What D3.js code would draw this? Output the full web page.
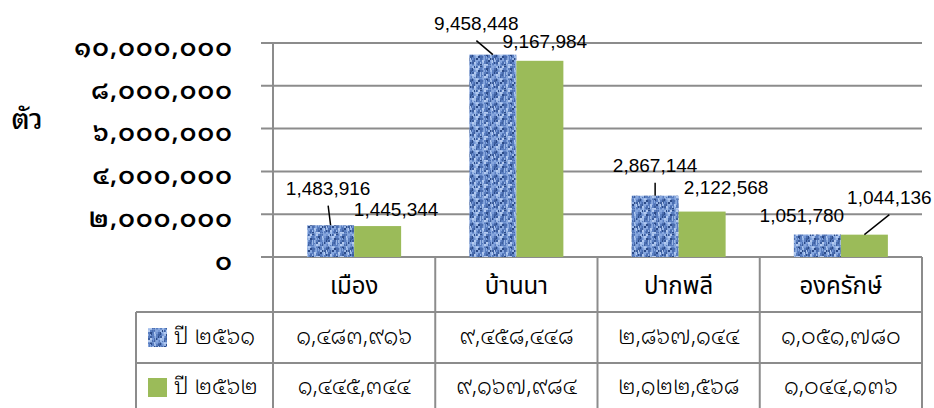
<!DOCTYPE html>
<html>
<head>
<meta charset="utf-8">
<script src="https://cdn.jsdelivr.net/npm/d3@7"></script>
<style>
  html, body { margin: 0; padding: 0; background: #fff; }
  svg { display: block; }
</style>
</head>
<body>
<svg id="chart" width="934" height="408"></svg>
<script>
// ---------- data ----------
const categories = ["เมือง", "บ้านนา", "ปากพลี", "องครักษ์"];
const seriesNames = ["ปี ๒๕๖๑", "ปี ๒๕๖๒"];
const values2561 = [1483916, 9458448, 2867144, 1051780];
const values2562 = [1445344, 9167984, 2122568, 1044136];
const yTicks = [0, 2000000, 4000000, 6000000, 8000000, 10000000];
const yTickLabels = ["๐", "๒,๐๐๐,๐๐๐", "๔,๐๐๐,๐๐๐", "๖,๐๐๐,๐๐๐", "๘,๐๐๐,๐๐๐", "๑๐,๐๐๐,๐๐๐"];
const tableRow2561 = ["๑,๔๘๓,๙๑๖", "๙,๔๕๘,๔๔๘", "๒,๘๖๗,๑๔๔", "๑,๐๕๑,๗๘๐"];
const tableRow2562 = ["๑,๔๔๕,๓๔๔", "๙,๑๖๗,๙๘๔", "๒,๑๒๒,๕๖๘", "๑,๐๔๔,๑๓๖"];
const yTitle = "ตัว";

// label placement (layout, not data): offset of label centre from bar top centre, and leader flag
const labelLayout2561 = [[-2.5, -35.7, true], [-16.5, -30, true], [0, -29, true], [-15.5, -18, false]];
const labelLayout2562 = [[18.5, -15.5, false], [5, -18.3, false], [24, -23, false], [25, -36, true]];

// ---------- layout ----------
const svg = d3.select("#chart");
const plotLeft = 273, plotRight = 922, plotTop = 43, plotBottom = 257;
const tableLeft = 136;
const rowBottoms = [312, 363, 414];
const gridColor = "#8c8c8c";
const numFont = "'Liberation Sans', Arial, sans-serif";
const thaiFont = "'Noto Sans Thai', sans-serif";
const loopFont = "'Noto Sans Thai Looped', 'Noto Sans Thai', sans-serif";

const x = d3.scaleBand().domain(categories).range([plotLeft, plotRight]).padding(0);
const barW = 47;
const x1 = d3.scaleBand().domain(seriesNames)
  .range([x.bandwidth() / 2 - barW, x.bandwidth() / 2 + barW]).padding(0);
const y = d3.scaleLinear().domain([0, 10000000]).range([plotBottom, plotTop]);

// ---------- texture pattern (denim-like woven fill) ----------
const defs = svg.append("defs");
const P = 24;
const pat = defs.append("pattern").attr("id", "denim")
  .attr("patternUnits", "userSpaceOnUse").attr("width", P).attr("height", P);
pat.append("rect").attr("width", P).attr("height", P).attr("fill", "#5a7ec0");
const shades = ["#9ab7e6", "#3d5f9f", "#7496d4", "#2b4a88", "#b4caf0", "#4a6db0", "#86a6de"];
for (let i = 0; i < P / 2; i++) {
  for (let j = 0; j < P / 2; j++) {
    const h = (i * 5 + j * 3 + (i * i + j * 7) % 4) % 11;
    if (h < 8) {
      const w = (h % 3 === 0) ? 1 : 2, hh = (h % 2 === 0) ? 3 : 2;
      pat.append("rect").attr("x", i * 2).attr("y", j * 2).attr("width", w).attr("height", hh)
        .attr("fill", shades[(h + i + j) % shades.length]);
    }
  }
}
[3, 11, 19].forEach(v => pat.append("rect").attr("x", v).attr("y", 0).attr("width", 1).attr("height", P).attr("fill", "#a8c2ec").attr("opacity", 0.55));
[6, 17].forEach(v => pat.append("rect").attr("x", 0).attr("y", v).attr("width", P).attr("height", 1).attr("fill", "#8fb0e4").attr("opacity", 0.5));

// ---------- gridlines ----------
svg.append("g").selectAll("line").data(yTicks).join("line")
  .attr("x1", plotLeft - 12).attr("x2", plotRight)
  .attr("y1", d => y(d)).attr("y2", d => y(d))
  .attr("stroke", gridColor).attr("stroke-width", 2);

// y axis line (continues through the table)
svg.append("line").attr("x1", plotLeft).attr("x2", plotLeft)
  .attr("y1", plotTop).attr("y2", 408).attr("stroke", gridColor).attr("stroke-width", 2);

// y tick labels
svg.append("g").selectAll("text").data(yTicks).join("text")
  .attr("x", 233).attr("y", d => y(d) + 6)
  .attr("text-anchor", "end").attr("dominant-baseline", "middle")
  .attr("font-family", loopFont).attr("font-weight", 600).attr("font-size", 25)
  .attr("letter-spacing", 1.2)
  .attr("fill", "#000")
  .text((d, i) => yTickLabels[i]);

// y title
svg.append("text").attr("x", 27).attr("y", 121)
  .attr("text-anchor", "middle").attr("dominant-baseline", "middle")
  .attr("font-family", loopFont).attr("font-weight", 500).attr("font-size", 28).attr("fill", "#000")
  .text(yTitle);

// ---------- bars ----------
const seriesData = [
  { name: seriesNames[0], values: values2561, fill: "url(#denim)", layout: labelLayout2561 },
  { name: seriesNames[1], values: values2562, fill: "#9bbb59", layout: labelLayout2562 }
];
const gBars = svg.append("g");
seriesData.forEach(s => {
  gBars.selectAll(null).data(categories).join("rect")
    .attr("x", c => x(c) + x1(s.name))
    .attr("y", (c, i) => y(s.values[i]))
    .attr("width", x1.bandwidth())
    .attr("height", (c, i) => y(0) - y(s.values[i]))
    .attr("fill", s.fill);
});

// ---------- data labels ----------
const fmt = d3.format(",");
const gLab = svg.append("g");
seriesData.forEach(s => {
  categories.forEach((c, i) => {
    const cx = x(c) + x1(s.name) + x1.bandwidth() / 2;
    const top = y(s.values[i]);
    const [dx, dy, leader] = s.layout[i];
    const lx = cx + dx, ly = top + dy;
    gLab.append("text").attr("x", lx).attr("y", ly)
      .attr("text-anchor", "middle").attr("dominant-baseline", "middle")
      .attr("font-family", numFont).attr("font-size", 19).attr("fill", "#000")
      .text(fmt(s.values[i]));
    if (leader) {
      gLab.append("line").attr("x1", lx).attr("y1", ly + 16).attr("x2", cx).attr("y2", top)
        .attr("stroke", "#000").attr("stroke-width", 1.5);
    }
  });
});

// ---------- data table ----------
const gT = svg.append("g");
rowBottoms.slice(0, 2).forEach(yy => {
  gT.append("line").attr("x1", tableLeft).attr("x2", plotRight).attr("y1", yy).attr("y2", yy)
    .attr("stroke", gridColor).attr("stroke-width", 2);
});
categories.forEach(c => {
  gT.append("line").attr("x1", x(c) + x.bandwidth()).attr("x2", x(c) + x.bandwidth())
    .attr("y1", plotBottom).attr("y2", 408).attr("stroke", gridColor).attr("stroke-width", 2);
});
gT.append("line").attr("x1", tableLeft).attr("x2", tableLeft)
  .attr("y1", rowBottoms[0]).attr("y2", 408).attr("stroke", gridColor).attr("stroke-width", 2);

// category names
gT.selectAll("text.cat").data(categories).join("text").attr("class", "cat")
  .attr("x", c => x(c) + x.bandwidth() / 2).attr("y", 287)
  .attr("text-anchor", "middle").attr("dominant-baseline", "middle")
  .attr("font-family", thaiFont).attr("font-size", 24).attr("fill", "#000")
  .text(c => c);

// rows
const rows = [
  { cells: tableRow2561, cy: 338, fill: "url(#denim)", name: seriesNames[0] },
  { cells: tableRow2562, cy: 388, fill: "#9bbb59", name: seriesNames[1] }
];
rows.forEach(r => {
  gT.selectAll(null).data(categories).join("text")
    .attr("x", c => x(c) + x.bandwidth() / 2).attr("y", r.cy)
    .attr("text-anchor", "middle").attr("dominant-baseline", "middle")
    .attr("font-family", loopFont).attr("font-weight", 300).attr("font-size", 23).attr("fill", "#000")
    .text((c, i) => r.cells[i]);
  gT.append("rect").attr("x", 148).attr("y", r.cy - 10).attr("width", 19).attr("height", 19)
    .attr("fill", r.fill);
  gT.append("text").attr("x", 174).attr("y", r.cy)
    .attr("dominant-baseline", "middle")
    .attr("font-family", loopFont).attr("font-weight", 300).attr("font-size", 23).attr("fill", "#000")
    .text(r.name);
});
</script>
</body>
</html>
